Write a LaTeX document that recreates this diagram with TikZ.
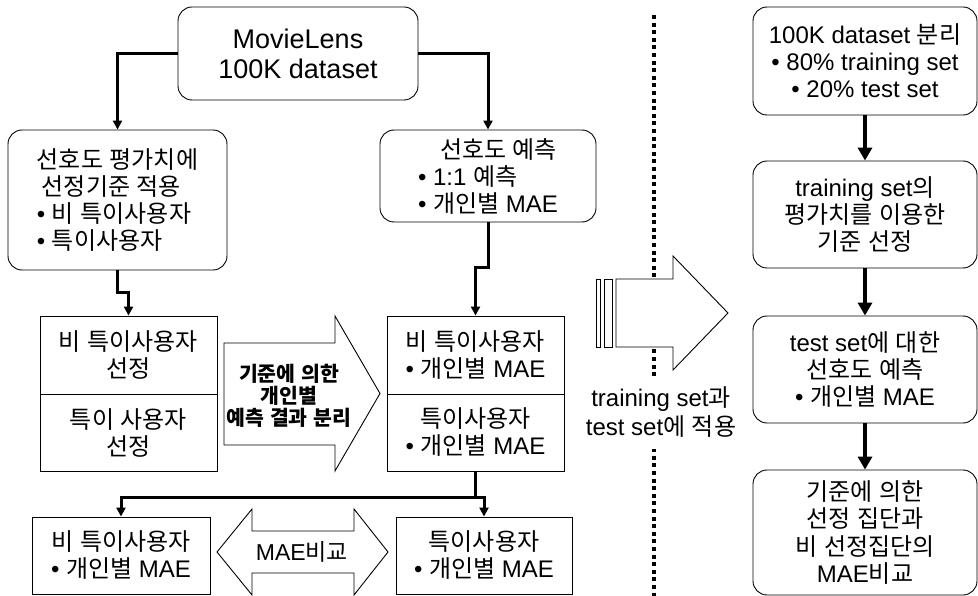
\documentclass[tikz,border=0pt]{standalone}
\usepackage{fontspec}
\setmainfont{Liberation Sans}
\newfontfamily\krfont{Noto Sans CJK KR}
\XeTeXinterchartokenstate=1
\newXeTeXintercharclass\krclass
\count255="AC00
\loop
	\XeTeXcharclass\count255=\krclass
	\advance\count255 by 1
\ifnum\count255<"D7A4 \repeat
\XeTeXinterchartoks 0 \krclass = {\begingroup\krfont}
\XeTeXinterchartoks 4095 \krclass = {\begingroup\krfont}
\XeTeXinterchartoks \krclass 0 = {\endgroup}
\XeTeXinterchartoks \krclass 4095 = {\endgroup}
\usetikzlibrary{arrows.meta, calc}

\begin{document}
\begin{tikzpicture}[x=1pt, y=-1pt,
	sbox/.style={draw, line width=0.9pt, inner sep=0pt, align=center, font=\fontsize{24}{27}\selectfont},
	rbox/.style={sbox, rounded corners=14pt},
	flow/.style={line width=3pt, -{Triangle[width=9pt,length=9pt]}},
	bigflow/.style={line width=4.5pt, -{Triangle[width=14pt,length=13pt]}},
	blockarrow/.style={draw, line width=0.9pt, fill=white, line join=miter}]
	\useasboundingbox (0,0) rectangle (978,596);

	\node[rbox, minimum width=240pt, minimum height=93pt, font=\fontsize{27}{30}\selectfont] (data) at (298,53.5) {MovieLens\\100K dataset};
	\node[rbox, minimum width=219pt, minimum height=140pt, align=left] (apply) at (117.5,200) {선호도 평가치에\\\hspace*{5pt}선정기준 적용\\• 비 특이사용자\\• 특이사용자};
	\node[rbox, minimum width=216pt, minimum height=92pt, align=left] (pred) at (488,176) {\hspace*{22pt}선호도 예측\\• 1:1 예측\\• 개인별 MAE};

	\node[sbox, minimum width=177pt, minimum height=78pt] (selA) at (128.5,355) {비 특이사용자\\선정};
	\node[sbox, minimum width=177pt, minimum height=77pt] (selB) at (128.5,432.5) {특이 사용자\\선정};
	\node[sbox, minimum width=177pt, minimum height=78pt] (maeA) at (475.5,355) {비 특이사용자\\• 개인별 MAE};
	\node[sbox, minimum width=177pt, minimum height=77pt] (maeB) at (475.5,432.5) {특이사용자\\• 개인별 MAE};
	\node[sbox, minimum width=178pt, minimum height=77pt] (bl) at (121,555.5) {비 특이사용자\\• 개인별 MAE};
	\node[sbox, minimum width=176pt, minimum height=77pt] (br) at (484,555.5) {특이사용자\\• 개인별 MAE};

	\draw[flow] (data.west) -| (apply.north);
	\draw[flow] (data.east) -| (pred.north);
	\draw[flow] (apply.south) -- ++(0,22) -| (selA.north);
	\draw[flow] (pred.south) -- ++(0,45) -| (maeA.north);
	\coordinate (split) at ($(maeB.south)+(0,26)$);
	\draw[flow] (maeB.south) -- (split) -| (bl.north);
	\draw[flow] (split) -| (br.north);

	\draw[blockarrow] (224,343) -- (335,343) -- (335,316) -- (380,393.5) -- (335,471) -- (335,445) -- (224,445) -- cycle;
	\node[align=center, font=\bfseries\fontsize{20.5}{22}\selectfont] (sep) at (289,396) {기준에 의한\\개인별\\예측 결과 분리};
	\draw[blockarrow] (217,552) -- (252,509) -- (252,531) -- (354,531) -- (354,509) -- (388,552) -- (354,595) -- (354,573) -- (252,573) -- (252,595) -- cycle;
	\node[font=\fontsize{23}{25}\selectfont] (cmp) at (302,552) {MAE비교};

	\draw[line width=4pt, dash pattern=on 4pt off 3.6pt] (654,15) -- (654,596);
	\draw[blockarrow] (596,279) rectangle (600,347);
	\draw[blockarrow] (604,279) rectangle (612,347);
	\draw[blockarrow] (616,279) -- (673,279) -- (673,256) -- (728,313) -- (673,370) -- (673,347) -- (616,347) -- cycle;
	\node[fill=white, inner sep=0pt, minimum height=73pt, align=center, font=\fontsize{24}{29}\selectfont] (both) at (661,412) {training set과\\test set에 적용};

	\node[rbox, minimum width=224pt, minimum height=108pt] (r1) at (865,61) {100K dataset 분리\\• 80\% training set\\• 20\% test set};
	\node[rbox, minimum width=224pt, minimum height=107pt] (r2) at (865,214.5) {training set의\\평가치를 이용한\\기준 선정};
	\node[rbox, minimum width=224pt, minimum height=107pt] (r3) at (865,369.5) {test set에 대한\\선호도 예측\\• 개인별 MAE};
	\node[rbox, minimum width=224pt, minimum height=125pt, font=\fontsize{24}{27.5}\selectfont] (r4) at (865,532.5) {기준에 의한\\선정 집단과\\비 선정집단의\\MAE비교};

	\draw[bigflow] (r1.south) -- (r2.north);
	\draw[bigflow] (r2.south) -- (r3.north);
	\draw[bigflow] (r3.south) -- (r4.north);
\end{tikzpicture}
\end{document}
